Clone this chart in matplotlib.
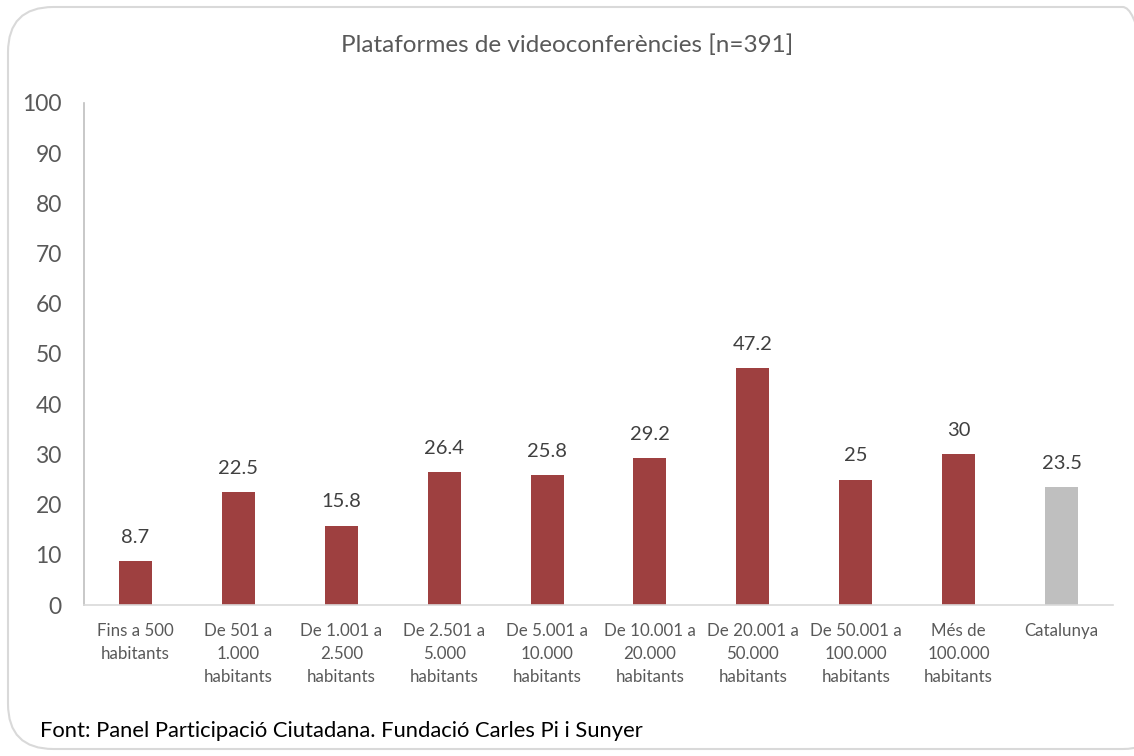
import matplotlib
matplotlib.use("Agg")
import matplotlib.pyplot as plt
from matplotlib.patches import FancyBboxPatch

categories = ["Fins a 500\nhabitants", "De 501 a\n1.000\nhabitants", "De 1.001 a\n2.500\nhabitants",
              "De 2.501 a\n5.000\nhabitants", "De 5.001 a\n10.000\nhabitants", "De 10.001 a\n20.000\nhabitants",
              "De 20.001 a\n50.000\nhabitants", "De 50.001 a\n100.000\nhabitants", "Més de\n100.000\nhabitants",
              "Catalunya"]
values = [8.7, 22.5, 15.8, 26.4, 25.8, 29.2, 47.2, 25, 30, 23.5]
value_labels = ["8.7", "22.5", "15.8", "26.4", "25.8", "29.2", "47.2", "25", "30", "23.5"]
y_ticks = [0, 10, 20, 30, 40, 50, 60, 70, 80, 90, 100]

plt.rcParams['font.family'] = ['Lato', 'DejaVu Sans']

fig = plt.figure(figsize=(11.34, 7.56), dpi=100)
fig.patch.set_facecolor("white")

border = FancyBboxPatch((8/1134, 7/756), 1160/1134, 742/756,
                        boxstyle="round,pad=0,rounding_size=0.04",
                        transform=fig.transFigure, facecolor="none",
                        edgecolor="#D9D9D9", linewidth=1.5, mutation_aspect=1134/756)
fig.patches.append(border)

ax = fig.add_axes([84/1134, 1 - 605/756, (1113 - 84)/1134, (605 - 103)/756])
colors = ["#9E4040"] * 9 + ["#BFBFBF"]
x = list(range(len(categories)))
ax.bar(x, values, width=0.32, color=colors)
ax.set_xlim(-0.5, len(categories) - 0.5)
ax.set_ylim(0, 100)
ax.set_yticks(y_ticks)
ax.set_yticklabels([str(t) for t in y_ticks], fontsize=16.5, color="#595959")
ax.set_xticks(x)
ax.set_xticklabels(categories, fontsize=12.2, color="#595959", linespacing=1.55, va="top")
ax.tick_params(axis="both", length=0)
ax.tick_params(axis="y", pad=16)
ax.tick_params(axis="x", pad=13)
for s in ["top", "right"]:
    ax.spines[s].set_visible(False)
ax.spines["left"].set_color("#BFBFBF")
ax.spines["bottom"].set_color("#D9D9D9")
ax.spines["left"].set_linewidth(1.2)
ax.spines["bottom"].set_linewidth(1.2)

for xi, v, lab in zip(x, values, value_labels):
    ax.annotate(lab, (xi, v), xytext=(0, 11), textcoords="offset points",
                ha="center", va="bottom", fontsize=14.5, color="#404040")

fig.text(0.5, 1 - 45/756, "Plataformes de videoconferències [n=391]", ha="center", va="center",
         fontsize=17.5, color="#595959")
fig.text(40/1134, 1 - 731/756, "Font: Panel Participació Ciutadana. Fundació Carles Pi i Sunyer",
         ha="left", va="center", fontsize=15.8, color="black")

fig.savefig("out.png", dpi=100, facecolor="white")
